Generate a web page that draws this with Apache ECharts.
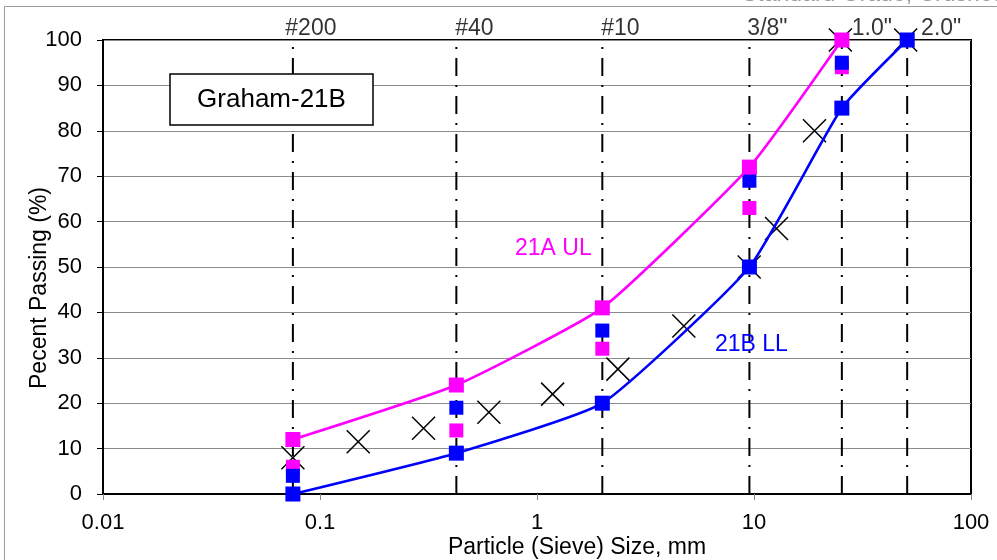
<!DOCTYPE html>
<html>
<head>
<meta charset="utf-8">
<script src="https://cdn.jsdelivr.net/npm/echarts@6/dist/echarts.min.js"></script>
<style>html,body{margin:0;padding:0;background:#fff;}#c{width:997px;height:560px;}</style>
</head>
<body>
<div id="c"></div>
<script>
// ---- data ----
const sieveSizes  = [0.075, 0.425, 2.0, 9.525, 25.4, 50.8];
const sieveLabels = ['#200', '#40', '#10', '3/8"', '1.0"', '2.0"'];

const ulSizes  = [0.075, 0.425, 2.0, 9.525, 25.4];
const ulValues = [12, 24, 41, 72, 100];          // 21A UL

const llSizes  = [0.075, 0.425, 2.0, 9.525, 25.4, 50.8];
const llValues = [0, 9, 20, 50, 85, 100];        // 21B LL

const aPtSizes  = [0.075, 0.425, 2.0, 9.525, 25.4];
const aPtValues = [6, 14, 32, 63, 94];           // magenta points

const bPtSizes  = [0.075, 0.425, 2.0, 9.525, 25.4, 50.8];
const bPtValues = [4, 19, 36, 69, 95, 100];      // blue points

const gradSizes  = [0.075, 0.15, 0.3, 0.6, 1.18, 2.36, 4.75, 9.5, 12.7, 19, 25, 50];
const gradValues = [8, 11.5, 14.5, 18, 22, 27.5, 37, 50, 58.5, 80, 100, 100];

const yTicks = [0, 10, 20, 30, 40, 50, 60, 70, 80, 90, 100];

// ---- styling ----
const labelOffsets = [18, 18, 18, 18, 30, 34];
const FONT = 'Liberation Sans';
const zip = (xs, ys) => xs.map((x, i) => [x, ys[i]]);

const series = [];
sieveSizes.forEach((s, i) => {
  series.push({
    type: 'line', silent: true, z: 1,
    data: [[s, 0], [s, 100]],
    symbol: 'none',
    lineStyle: { color: '#000', width: 2, type: [18, 9, 2, 9] }
  });
  series.push({
    type: 'scatter', silent: true, z: 1,
    data: [[s, 100]],
    symbolSize: 0,
    label: {
      show: true, position: 'top', distance: 0, offset: [labelOffsets[i], 0],
      formatter: sieveLabels[i], color: '#000', fontSize: 23, fontFamily: FONT
    }
  });
});

const xMark = 'path://M0,0L10,10M10,0L0,10';
series.push({
  type: 'scatter', z: 2, data: zip(gradSizes, gradValues),
  symbol: xMark, symbolSize: 23,
  itemStyle: { color: 'none', borderColor: '#000', borderWidth: 1.5, opacity: 1 }
});
series.push({
  type: 'scatter', z: 3, data: zip(aPtSizes, aPtValues),
  symbol: 'rect', symbolSize: 14, itemStyle: { color: '#FF00FF', opacity: 1 }
});
series.push({
  type: 'scatter', z: 4, data: zip(bPtSizes, bPtValues),
  symbol: 'rect', symbolSize: 14, itemStyle: { color: '#0000FF', opacity: 1 }
});
series.push({
  type: 'line', z: 5, data: zip(ulSizes, ulValues), smooth: 0.15,
  symbol: 'rect', symbolSize: 15, showAllSymbol: true,
  itemStyle: { color: '#FF00FF', opacity: 1 }, lineStyle: { color: '#FF00FF', width: 2.6 }
});
series.push({
  type: 'line', z: 6, data: zip(llSizes, llValues), smooth: 0.15,
  symbol: 'rect', symbolSize: 15, showAllSymbol: true,
  itemStyle: { color: '#0000FF', opacity: 1 }, lineStyle: { color: '#0000FF', width: 2.6 }
});

const chart = echarts.init(document.getElementById('c'), null, { renderer: 'canvas' });
chart.setOption({
  animation: false,
  backgroundColor: '#fff',
  grid: { left: 103, right: 26, top: 40, bottom: 66, show: true, borderColor: '#000', borderWidth: 2, backgroundColor: 'transparent' },
  xAxis: {
    type: 'log', logBase: 10, min: 0.01, max: 100,
    axisLine: { show: true, lineStyle: { color: '#000', width: 2 } },
    axisTick: { show: true, inside: false, length: 6, lineStyle: { color: '#888', width: 1 } },
    minorTick: { show: false },
    splitLine: { show: false },
    axisLabel: {
      margin: 18, fontSize: 22, fontFamily: FONT, color: '#000',
      formatter: v => { const e = Math.round(Math.log10(v)); return e < 0 ? (Math.pow(10, e)).toFixed(-e) : String(Math.pow(10, e)); }
    }
  },
  yAxis: {
    type: 'value', min: 0, max: 100, interval: 10,
    axisLine: { show: true, lineStyle: { color: '#000', width: 2 } },
    axisTick: { show: true, inside: false, length: 6, lineStyle: { color: '#000', width: 1 } },
    splitLine: { show: true, lineStyle: { color: '#8c8c8c', width: 1 } },
    axisLabel: { margin: 21, fontSize: 22, fontFamily: FONT, color: '#000',
      formatter: v => yTicks.includes(v) ? String(v) : '' }
  },
  graphic: [
    { type: 'rect', z: 0, silent: true, shape: { x: 4.5, y: 6.5, width: 1100, height: 700 },
      style: { fill: 'none', stroke: '#9a9a9a', lineWidth: 1 } },
    { type: 'text', z: 0, silent: true, left: 742, top: -17,
      style: { text: 'Standard Grade, Crushed', fill: '#9a9a9a', font: '23px "Liberation Sans"' } },
    { type: 'text', z: 10, silent: true, x: 577, y: 548,
      style: { text: 'Particle (Sieve) Size, mm', fill: '#000', font: '23px "Liberation Sans"', align: 'center', verticalAlign: 'middle' } },
    { type: 'text', z: 10, silent: true, x: 40, y: 288, rotation: Math.PI / 2,
      style: { text: 'Pecent Passing (%)', fill: '#000', font: '23px "Liberation Sans"', align: 'center', verticalAlign: 'middle' } },
    { type: 'rect', z: 100, silent: true, shape: { x: 170, y: 74, width: 203, height: 51 },
      style: { fill: '#fff', stroke: '#000', lineWidth: 1.5 } },
    { type: 'text', z: 101, silent: true, x: 271.5, y: 100,
      style: { text: 'Graham-21B', fill: '#000', font: '26px "Liberation Sans"', align: 'center', verticalAlign: 'middle' } },
    { type: 'text', z: 101, silent: true, x: 515, y: 249,
      style: { text: '21A UL', fill: '#FF00FF', font: '23px "Liberation Sans"', verticalAlign: 'middle' } },
    { type: 'text', z: 101, silent: true, x: 715, y: 345,
      style: { text: '21B LL', fill: '#0000FF', font: '23px "Liberation Sans"', verticalAlign: 'middle' } }
  ],
  series: series
});
</script>
</body>
</html>
